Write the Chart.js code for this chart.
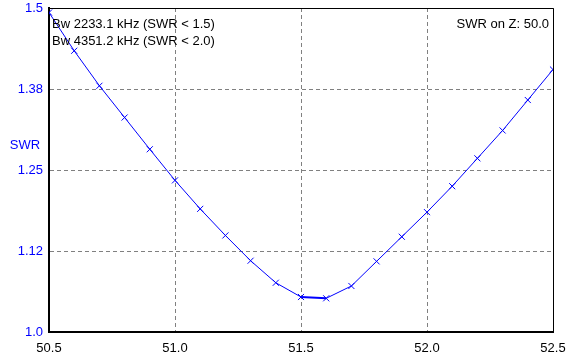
<!DOCTYPE html>
<html>
<head>
<meta charset="utf-8">
<script src="https://cdn.jsdelivr.net/npm/chart.js@4.4.0/dist/chart.umd.min.js"></script>
<style>
  html, body { margin: 0; padding: 0; background: #fff; }
  canvas { display: block; }
</style>
</head>
<body>
<canvas id="swrChart" width="577" height="362"></canvas>
<script>
// frequency in MHz and SWR
const freqs = [50.5, 50.6, 50.7, 50.8, 50.9, 51.0, 51.1, 51.2, 51.3, 51.4, 51.5,
               51.6, 51.7, 51.8, 51.9, 52.0, 52.1, 52.2, 52.3, 52.4, 52.5];
const swr = [1.493, 1.434, 1.380, 1.331, 1.282, 1.234, 1.190, 1.149, 1.110, 1.076, 1.054,
             1.052, 1.071, 1.109, 1.147, 1.185, 1.225, 1.268, 1.311, 1.358, 1.405];
const yTickLabels = ["1.0", "1.12", "1.25", "1.38", "1.5"];
const notes = ["Bw 2233.1 kHz (SWR < 1.5)", "Bw 4351.2 kHz (SWR < 2.0)"];
const zNote = "SWR on Z: 50.0";

const FONT = "'Liberation Sans', Arial, sans-serif";

const frameAndText = {
  id: "frameAndText",
  afterDraw(chart) {
    const { ctx, chartArea: a } = chart;
    ctx.save();
    ctx.strokeStyle = "#000";
    ctx.lineWidth = 1;
    ctx.beginPath();
    ctx.moveTo(a.left, a.top + 0.5);
    ctx.lineTo(a.right + 0.5, a.top + 0.5);
    ctx.lineTo(a.right + 0.5, a.bottom);
    ctx.stroke();

    ctx.font = "13px " + FONT;
    ctx.fillStyle = "#000";
    ctx.textBaseline = "middle";
    ctx.textAlign = "left";
    ctx.fillText(notes[0], a.left + 3, 24);
    ctx.fillText(notes[1], a.left + 3, 41);
    ctx.textAlign = "right";
    ctx.fillText(zNote, a.right - 4, 24);

    ctx.fillStyle = "#0000ff";
    ctx.textAlign = "center";
    ctx.fillText("SWR", 25, 145);
    ctx.restore();
  }
};

new Chart(document.getElementById("swrChart"), {
  type: "line",
  data: {
    datasets: [{
      data: freqs.map((f, i) => ({ x: f, y: swr[i] })),
      borderColor: "#0000ff",
      borderWidth: 1,
      segment: { borderWidth: c => (c.p0DataIndex === 10 ? 2 : 1) },
      pointStyle: "crossRot",
      pointRadius: 4.3,
      pointBorderColor: "#0000ff",
      pointBorderWidth: 1,
      tension: 0,
      fill: false
    }]
  },
  options: {
    responsive: false,
    animation: false,
    layout: { padding: { top: 8, right: 24, left: 0, bottom: 0 } },
    plugins: { legend: { display: false }, tooltip: { enabled: false } },
    scales: {
      x: {
        type: "linear",
        min: 50.5,
        max: 52.5,
        afterFit: s => { s.height = 30; s.paddingLeft = 0; s.paddingRight = 0; },
        ticks: {
          stepSize: 0.5,
          padding: 9,
          color: "#000",
          font: { family: FONT, size: 13 },
          callback: v => v.toFixed(1)
        },
        grid: { color: "#808080", lineWidth: 1, drawTicks: false },
        border: { color: "#000", width: 2, dash: [4, 3] }
      },
      y: {
        min: 1.0,
        max: 1.5,
        afterFit: s => { s.width = 49; s.paddingTop = 0; s.paddingBottom = 0; },
        afterBuildTicks: s => {
          s.ticks = yTickLabels.map((t, i) => ({ value: 1.0 + i * 0.125 }));
        },
        ticks: {
          padding: 6,
          color: "#0000ff",
          font: { family: FONT, size: 13 },
          callback: (v, i) => yTickLabels[i]
        },
        grid: { color: "#808080", lineWidth: 1, drawTicks: false },
        border: { color: "#000", width: 2, dash: [4, 3] }
      }
    }
  },
  plugins: [frameAndText]
});
</script>
</body>
</html>
